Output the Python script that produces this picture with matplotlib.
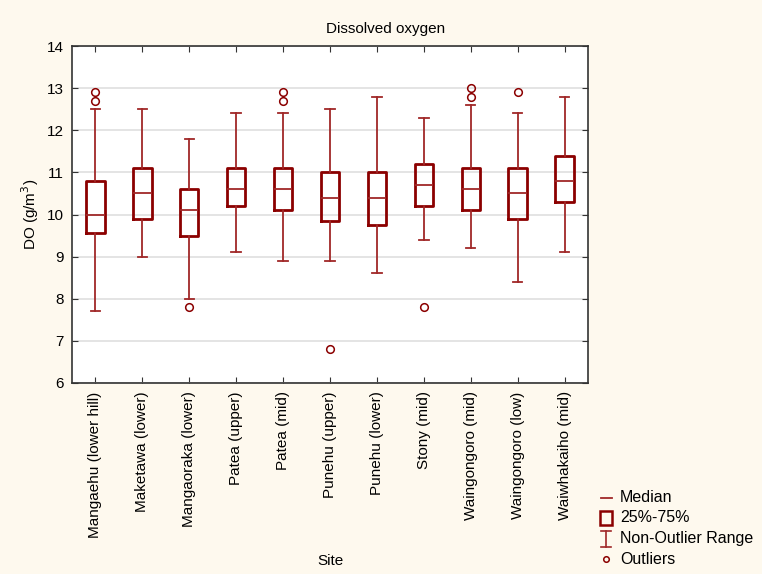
import matplotlib
matplotlib.use("Agg")
import matplotlib.pyplot as plt
from matplotlib.lines import Line2D
from matplotlib.patches import Rectangle

plt.rcParams['font.family'] = ['Liberation Sans', 'DejaVu Sans']

sites = ["Mangaehu (lower hill)", "Maketawa (lower)", "Mangaoraka (lower)",
         "Patea (upper)", "Patea (mid)", "Punehu (upper)", "Punehu (lower)",
         "Stony (mid)", "Waingongoro (mid)", "Waingongoro (low)", "Waiwhakaiho (mid)"]
medians = [10.0, 10.5, 10.1, 10.6, 10.6, 10.4, 10.4, 10.7, 10.6, 10.5, 10.8]
q1 = [9.55, 9.9, 9.5, 10.2, 10.1, 9.85, 9.75, 10.2, 10.1, 9.9, 10.3]
q3 = [10.8, 11.1, 10.6, 11.1, 11.1, 11.0, 11.0, 11.2, 11.1, 11.1, 11.4]
whislo = [7.7, 9.0, 8.0, 9.1, 8.9, 8.9, 8.6, 9.4, 9.2, 8.4, 9.1]
whishi = [12.5, 12.5, 11.8, 12.4, 12.4, 12.5, 12.8, 12.3, 12.6, 12.4, 12.8]
outliers = [[12.7, 12.9], [], [7.8], [], [12.7, 12.9], [6.8], [], [7.8],
            [12.8, 13.0], [12.9], []]
yticks = [6, 7, 8, 9, 10, 11, 12, 13, 14]

BOX = '#8B0000'
WH = '#A02828'
BG = '#FEF9EE'
FS = 11

fig = plt.figure(figsize=(7.62, 5.74), dpi=100, facecolor=BG)
ax = fig.add_axes([72/762, 1-383/574, (588-72)/762, (383-46)/574])
ax.set_facecolor('white')

stats = []
for i in range(len(sites)):
    stats.append(dict(med=medians[i], q1=q1[i], q3=q3[i], whislo=whislo[i],
                      whishi=whishi[i], fliers=outliers[i], label=sites[i]))

ax.bxp(stats, positions=range(1, len(sites)+1), widths=0.39,
       boxprops=dict(color=BOX, linewidth=2.0),
       medianprops=dict(color=WH, linewidth=1.3),
       whiskerprops=dict(color=WH, linewidth=1.3),
       capprops=dict(color=WH, linewidth=1.3),
       capwidths=0.2,
       flierprops=dict(marker='o', markerfacecolor='none', markeredgecolor=BOX,
                       markersize=5.5, markeredgewidth=1.1, linestyle='none'),
       zorder=3)

ax.set_xlim(0.5, len(sites)+0.5)
ax.set_ylim(6, 14)
ax.set_yticks(yticks)
ax.yaxis.grid(True, color='#E2E2E2', linewidth=1.3, zorder=0)
ax.set_axisbelow(True)
ax.set_xticks(range(1, len(sites)+1))
ax.set_xticklabels(sites, rotation=90, fontsize=FS)
ax.tick_params(axis='both', direction='in', length=4, color='#333333',
               top=True, right=True, labelsize=FS, pad=6)
for s in ax.spines.values():
    s.set_color('#333333')
    s.set_linewidth(1.2)

ax.set_ylabel('DO (g/m$^3$)', fontsize=FS)
ax.yaxis.set_label_coords(-(72-30)/516, 0.5)
ax.yaxis.label.set_va('center')
ax.set_xlabel('Site', fontsize=FS)
ax.xaxis.set_label_coords(0.5, -(561-383)/337)
ax.xaxis.label.set_va('center')

def fx(px):
    return px/762
def fy(py):
    return 1 - py/574

fig.text(fx(386), fy(29), 'Dissolved oxygen', fontsize=FS, ha='center', va='center')

# legend drawn in figure pixel coordinates
items = ['Median', '25%-75%', 'Non-Outlier Range', 'Outliers']
ys = [498, 518, 539, 559]
tx = 620
fig.add_artist(Line2D([fx(601), fx(612)], [fy(ys[0]), fy(ys[0])], color=WH, lw=1.3))
fig.add_artist(Rectangle((fx(600), fy(ys[1]+7)), 12/762, 14/574, fill=False,
                         edgecolor=BOX, lw=1.8))
fig.add_artist(Line2D([fx(606), fx(606)], [fy(ys[2]-8), fy(ys[2]+8)], color=WH, lw=1.2))
fig.add_artist(Line2D([fx(601), fx(611)], [fy(ys[2]-8), fy(ys[2]-8)], color=WH, lw=1.2))
fig.add_artist(Line2D([fx(601), fx(611)], [fy(ys[2]+8), fy(ys[2]+8)], color=WH, lw=1.2))
fig.add_artist(Line2D([fx(606)], [fy(ys[3])], marker='o', markerfacecolor='none',
                      markeredgecolor=BOX, markersize=4, markeredgewidth=1.1))
for t, yy in zip(items, ys):
    fig.text(fx(tx), fy(yy), t, fontsize=11.5, va='center', ha='left')

fig.savefig('out.png', dpi=100, facecolor=BG)
